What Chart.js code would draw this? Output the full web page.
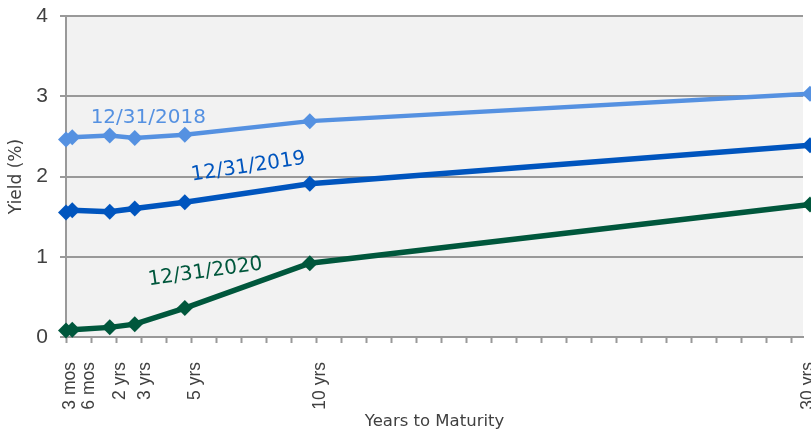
<!DOCTYPE html>
<html>
<head>
<meta charset="utf-8">
<script src="https://cdn.jsdelivr.net/npm/chart.js@4.4.1/dist/chart.umd.min.js"></script>
<style>
  html, body { margin: 0; padding: 0; background: #fff; }
  #wrap { width: 811px; height: 433px; }
</style>
</head>
<body>
<div id="wrap"><canvas id="yield-chart" width="811" height="433"></canvas></div>
<script>
// Treasury yields (%) by maturity (years)
const maturities = [0.25, 0.5, 2, 3, 5, 10, 30];
const yields2018 = [2.46, 2.49, 2.51, 2.48, 2.52, 2.69, 3.03];
const yields2019 = [1.55, 1.58, 1.56, 1.60, 1.68, 1.91, 2.39];
const yields2020 = [0.08, 0.09, 0.12, 0.16, 0.36, 0.92, 1.65];

// x axis labels and where they sit (years)
const tickLabels = ['3 mos', '6 mos', '2 yrs', '3 yrs', '5 yrs', '10 yrs', '30 yrs'];
const tickLabelAt = [0.25, 1, 2.25, 3.25, 5.25, 10.25, 29.75];
const yTicks = [0, 1, 2, 3, 4];

// curve names written on the plot: x (years), y (%), angle (deg)
const curveNames = ['12/31/2018', '12/31/2019', '12/31/2020'];
const nameX = [3.54, 7.54, 5.82];
const nameY = [2.73, 2.12, 0.81];
const nameAngle = [0, -8.5, -8];
const colors = ['#5591e1', '#0055be', '#00573c'];

const textColor = '#404040';
const gridColor = '#999999';

function points(values) {
    return maturities.map((m, i) => ({ x: m, y: values[i] }));
}

// small tick marks sit every year starting at 3 mos
function isMark(v) {
    return v < 29.5 && Math.abs((v - 0.25) - Math.round(v - 0.25)) < 1e-9;
}

// grey plot area
const plotBackground = {
    id: 'plotBackground',
    beforeDraw(chart) {
        const { ctx, chartArea: a } = chart;
        ctx.save();
        ctx.fillStyle = '#f2f2f2';
        ctx.fillRect(a.left, a.top, a.right - a.left, a.bottom - a.top);
        ctx.restore();
    }
};

// date labels next to each curve
const curveLabels = {
    id: 'curveLabels',
    afterDatasetsDraw(chart) {
        const { ctx, scales } = chart;
        ctx.save();
        ctx.font = '20px "DejaVu Sans"';
        ctx.textAlign = 'center';
        ctx.textBaseline = 'middle';
        curveNames.forEach((name, i) => {
            let px = scales.x.getPixelForValue(nameX[i]);
            let py = scales.y.getPixelForValue(nameY[i]);
            ctx.save();
            ctx.translate(px, py);
            ctx.rotate(nameAngle[i] * Math.PI / 180);
            ctx.fillStyle = colors[i];
            ctx.fillText(name, 0, 0);
            ctx.restore();
        });
        ctx.restore();
    }
};

function makeSet(label, values, color, width) {
    return {
        label: label,
        data: points(values),
        borderColor: color,
        backgroundColor: color,
        borderWidth: width,
        pointStyle: 'rectRot',
        pointRadius: 8,
        pointBorderWidth: 0,
        pointBackgroundColor: color,
        tension: 0,
        clip: false
    };
}

new Chart(document.getElementById('yield-chart').getContext('2d'), {
    type: 'line',
    data: {
        datasets: [
            makeSet(curveNames[0], yields2018, colors[0], 4.5),
            makeSet(curveNames[1], yields2019, colors[1], 5.5),
            makeSet(curveNames[2], yields2020, colors[2], 5.5)
        ]
    },
    options: {
        responsive: false,
        animation: false,
        layout: { padding: { top: 16, right: 1, left: 0, bottom: 0 } },
        plugins: {
            legend: { display: false },
            tooltip: { enabled: false }
        },
        scales: {
            x: {
                type: 'linear',
                min: 0.25,
                max: 29.72, // the 30 yr points sit on the right edge, half cut like the original
                afterBuildTicks(scale) {
                    let vals = [];
                    for (let v = 0.25; v < 29.5; v += 1) vals.push(v);
                    tickLabelAt.forEach(v => { if (!vals.includes(v)) vals.push(v); });
                    vals.sort((a, b) => a - b);
                    scale.ticks = vals.map(v => ({ value: v }));
                },
                afterFit(scale) {
                    scale.height = 96;
                    scale.paddingLeft = 0;
                    scale.paddingRight = 0;
                },
                ticks: {
                    autoSkip: false,
                    minRotation: 90,
                    maxRotation: 90,
                    labelOffset: 4,
                    padding: 19,
                    color: textColor,
                    font: { family: 'Liberation Sans', size: 17.5 },
                    callback: v => {
                        let i = tickLabelAt.indexOf(v);
                        return i < 0 ? '' : tickLabels[i];
                    }
                },
                grid: {
                    drawOnChartArea: false,
                    tickLength: 6,
                    tickWidth: 2,
                    tickColor: ctx => (ctx.tick && isMark(ctx.tick.value)) ? gridColor : 'rgba(0,0,0,0)'
                },
                border: { color: gridColor, width: 2 },
                title: {
                    display: true,
                    text: 'Years to Maturity',
                    color: textColor,
                    font: { family: 'DejaVu Sans', size: 16.5 },
                    padding: { top: 0, bottom: 1 }
                }
            },
            y: {
                min: 0,
                max: 4,
                afterBuildTicks(scale) {
                    scale.ticks = yTicks.map(v => ({ value: v }));
                },
                afterFit(scale) {
                    scale.width = 66;
                    scale.paddingTop = 0;
                    scale.paddingBottom = 0;
                },
                ticks: {
                    padding: 12,
                    color: textColor,
                    font: { family: 'Liberation Sans', size: 21 }
                },
                grid: {
                    color: gridColor,
                    lineWidth: 2,
                    tickLength: 6
                },
                border: { color: gridColor, width: 2 },
                title: {
                    display: true,
                    text: 'Yield (%)',
                    color: textColor,
                    font: { family: 'DejaVu Sans', size: 17 },
                    padding: { top: 6, bottom: 0 }
                }
            }
        }
    },
    plugins: [plotBackground, curveLabels]
});
</script>
</body>
</html>
